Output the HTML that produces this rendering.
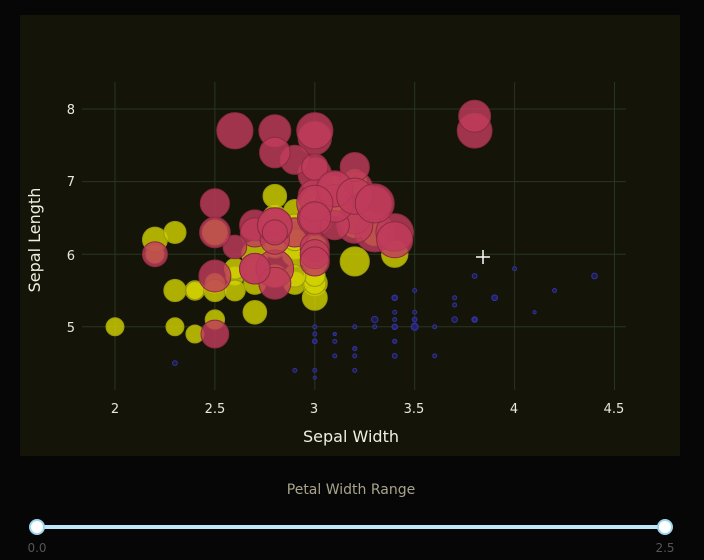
<!DOCTYPE html>
<html><head><meta charset="utf-8">
<style>
html,body{margin:0;padding:0;background:#060606;width:704px;height:560px;overflow:hidden;font-family:"DejaVu Sans","Liberation Sans",sans-serif;}
svg{display:block}
</style></head>
<body>
<svg id="s" width="704" height="560" xmlns="http://www.w3.org/2000/svg">
<rect x="0" y="0" width="704" height="560" fill="#060606"/>
<rect x="20" y="15" width="660" height="441" fill="#141408"/>
<g id="grid" stroke="#283620" stroke-width="1"></g>
<g id="pts"></g>
<g fill="#e8e8d8" font-size="13" text-anchor="middle">
<text x="115" y="413">2</text><text x="215" y="413">2.5</text><text x="314" y="413">3</text>
<text x="414" y="413">3.5</text><text x="514" y="413">4</text><text x="614" y="413">4.5</text>
</g>
<g fill="#e8e8d8" font-size="13" text-anchor="end">
<text x="75" y="114">8</text><text x="75" y="186">7</text><text x="75" y="260">6</text><text x="75" y="332">5</text>
</g>
<text x="351" y="442" fill="#f0f0e0" font-size="16" text-anchor="middle">Sepal Width</text>
<text transform="translate(40,240) rotate(-90)" fill="#f0f0e0" font-size="16" text-anchor="middle">Sepal Length</text>
<g stroke="#fff" stroke-width="1.5"><line x1="476" y1="257" x2="490" y2="257"/><line x1="483" y1="250" x2="483" y2="264"/></g>
<text x="351" y="494" fill="#a8a48a" font-size="14" text-anchor="middle">Petal Width Range</text>
<line x1="37" y1="527" x2="665" y2="527" stroke="#bfe6f7" stroke-width="4"/>
<circle cx="37" cy="527" r="7" fill="#fff" stroke="#9fd6ee" stroke-width="2"/>
<circle cx="665" cy="527" r="7" fill="#fff" stroke="#9fd6ee" stroke-width="2"/>
<text x="37" y="552" fill="#555" font-size="12" text-anchor="middle">0.0</text>
<text x="665" y="552" fill="#555" font-size="12" text-anchor="middle">2.5</text>
</svg>
<script>
var d={s:"5.1,3.5,.2;4.9,3,.2;4.7,3.2,.2;4.6,3.1,.2;5,3.6,.2;5.4,3.9,.4;4.6,3.4,.3;5,3.4,.2;4.4,2.9,.2;4.9,3.1,.1;5.4,3.7,.2;4.8,3.4,.2;4.8,3,.1;4.3,3,.1;5.8,4,.2;5.7,4.4,.4;5.4,3.9,.4;5.1,3.5,.3;5.7,3.8,.3;5.1,3.8,.3;5.4,3.4,.2;5.1,3.7,.4;4.6,3.6,.2;5.1,3.3,.5;4.8,3.4,.2;5,3,.2;5,3.4,.4;5.2,3.5,.2;5.2,3.4,.2;4.7,3.2,.2;4.8,3.1,.2;5.4,3.4,.4;5.2,4.1,.1;5.5,4.2,.2;4.9,3.1,.1;5,3.2,.2;5.5,3.5,.2;4.9,3.1,.1;4.4,3,.2;5.1,3.4,.2;5,3.5,.3;4.5,2.3,.3;4.4,3.2,.2;5,3.5,.6;5.1,3.8,.4;4.8,3,.3;5.1,3.8,.2;4.6,3.2,.2;5.3,3.7,.2;5,3.3,.2",
v:"7,3.2,1.4;6.4,3.2,1.5;6.9,3.1,1.5;5.5,2.3,1.3;6.5,2.8,1.5;5.7,2.8,1.3;6.3,3.3,1.6;4.9,2.4,1;6.6,2.9,1.3;5.2,2.7,1.4;5,2,1;5.9,3,1.5;6,2.2,1;6.1,2.9,1.4;5.6,2.9,1.3;6.7,3.1,1.4;5.6,3,1.5;5.8,2.7,1;6.2,2.2,1.5;5.6,2.5,1.1;5.9,3.2,1.8;6.1,2.8,1.3;6.3,2.5,1.5;6.1,2.8,1.2;6.4,2.9,1.3;6.6,3,1.4;6.8,2.8,1.4;6.7,3,1.7;6,2.9,1.5;5.7,2.6,1;5.5,2.4,1.1;5.5,2.4,1;5.8,2.7,1.2;6,2.7,1.6;5.4,3,1.5;6,3.4,1.6;6.7,3.1,1.5;6.3,2.3,1.3;5.6,3,1.3;5.5,2.5,1.3;5.5,2.6,1.2;6.1,3,1.4;5.8,2.6,1.2;5,2.3,1;5.6,2.7,1.3;5.7,3,1.2;5.7,2.9,1.3;6.2,2.9,1.3;5.1,2.5,1.1;5.7,2.8,1.3",
g:"6.3,3.3,2.5;5.8,2.7,1.9;7.1,3,2.1;6.3,2.9,1.8;6.5,3,2.2;7.6,3,2.1;4.9,2.5,1.7;7.3,2.9,1.8;6.7,2.5,1.8;6.5,3.2,2;6.4,2.7,1.9;6.8,3,2.1;5.7,2.5,2;5.8,2.8,2.4;6.4,3.2,2.3;6.5,3,1.8;7.7,3.8,2.2;7.7,2.6,2.3;6,2.2,1.5;6.9,3.2,2.3;5.6,2.8,2;7.7,2.8,2;6.3,2.7,1.8;6.7,3.3,2.1;7.2,3.2,1.8;6.2,2.8,1.8;6.1,3,1.8;6.4,2.8,2.1;7.2,3,1.6;7.4,2.8,1.9;7.9,3.8,2;6.4,2.8,2.2;6.3,2.8,1.5;6.1,2.6,1.4;7.7,3,2.3;6.3,3.4,2.4;6.4,3.1,1.8;6,3,1.8;6.9,3.1,2.1;6.7,3.1,2.4;6.9,3.1,2.3;5.8,2.7,1.9;6.8,3.2,2.3;6.7,3.3,2.5;6.7,3,2.3;6.3,2.5,1.9;6.5,3,2;6.2,3.4,2.3;5.9,3,1.8"};
var NS="http://www.w3.org/2000/svg";
function X(v){return 115+(v-2)*199.8}function Y(v){return 109+(8-v)*72.6}
var grid=document.getElementById('grid');
[2,2.5,3,3.5,4,4.5].forEach(function(v){var l=document.createElementNS(NS,'line');l.setAttribute('x1',X(v));l.setAttribute('x2',X(v));l.setAttribute('y1',82);l.setAttribute('y2',390);grid.appendChild(l)});
[8,7,6,5].forEach(function(v){var l=document.createElementNS(NS,'line');l.setAttribute('x1',82);l.setAttribute('x2',626);l.setAttribute('y1',Y(v));l.setAttribute('y2',Y(v));grid.appendChild(l)});
var pts=document.getElementById('pts');
var st={s:["#22227a","#33339a"],v:["#d2d200","#9a9a10"],g:["#c03c5c","#8a2a40"]};
["s","v","g"].forEach(function(k){d[k].split(';').forEach(function(r){var a=r.split(',').map(Number);
var c=document.createElementNS(NS,'circle');c.setAttribute('cx',X(a[1]));c.setAttribute('cy',Y(a[0]));
var rad=k=='s'?1.2+a[2]*4:2+a[2]*7;c.setAttribute('r',rad);c.setAttribute('fill',st[k][0]);
c.setAttribute('fill-opacity',k=='s'?0.6:0.82);c.setAttribute('stroke',st[k][1]);c.setAttribute('stroke-width',1);pts.appendChild(c)})});
</script>
</body></html>
